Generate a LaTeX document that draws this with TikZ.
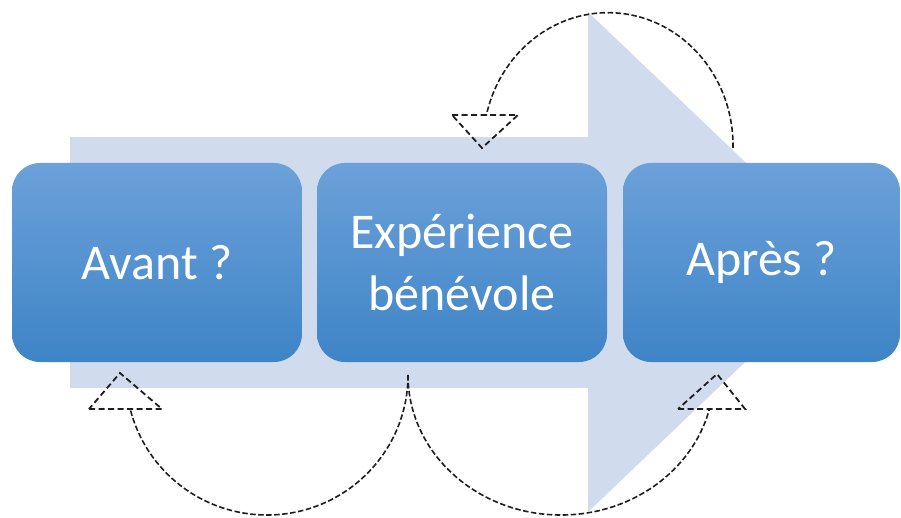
\documentclass[tikz,border=0pt]{standalone}
\usepackage{fontspec}
\usepackage{tikz}
\newfontfamily\boxfont{Carlito}
\definecolor{arrowbg}{RGB}{208,220,238}
\definecolor{boxtop}{RGB}{108,161,218}
\definecolor{boxbot}{RGB}{62,132,198}
\definecolor{loopgray}{RGB}{30,30,30}
\tikzset{
	stagebox/.style={rounded corners=28pt, top color=boxtop, bottom color=boxbot, draw=none,
		minimum width=290pt, minimum height=199pt, inner sep=0pt, text=white, align=center,
		font=\boxfont\fontsize{50}{62}\selectfont},
	loopline/.style={draw=loopgray, line width=1.6pt, dash pattern=on 5.5pt off 2.5pt},
	headline/.style={draw=loopgray, line width=1.8pt, dash pattern=on 6pt off 3.5pt}
}

\begin{document}
\begin{tikzpicture}[x=1pt,y=1pt]
	\useasboundingbox (0,0) rectangle (901,517);
	\fill[arrowbg] (70,129) rectangle (588,380);
	\fill[arrowbg] (588,505)--(850,255)--(588,5)--cycle;
	\node[stagebox] (avant) at (157,254.5) {Avant ?};
	\node[stagebox] (exp) at (462,254.5) {Expérience\\bénévole};
	\node[stagebox, minimum width=277pt] (apres) at (761.5,254.5) {Après ?};
	\coordinate (expout) at (408,142);
	\coordinate (apresout) at (733,369);
	\draw[loopline] (expout) arc[start angle=0, end angle=-166, x radius=141, y radius=140] coordinate (avantin);
	\draw[loopline] (expout) arc[start angle=180, end angle=346, x radius=153, y radius=140] coordinate (apresin);
	\draw[loopline] (apresout) arc[start angle=-1, end angle=167, x radius=125, y radius=133] coordinate (expin);
	\draw[headline] (89,108)--(162,108)--(120,144)--cycle;
	\draw[headline] (678,108)--(745,108)--(717,143)--cycle;
	\draw[headline] (452,402)--(518,402)--(482,369)--cycle;
\end{tikzpicture}
\end{document}
